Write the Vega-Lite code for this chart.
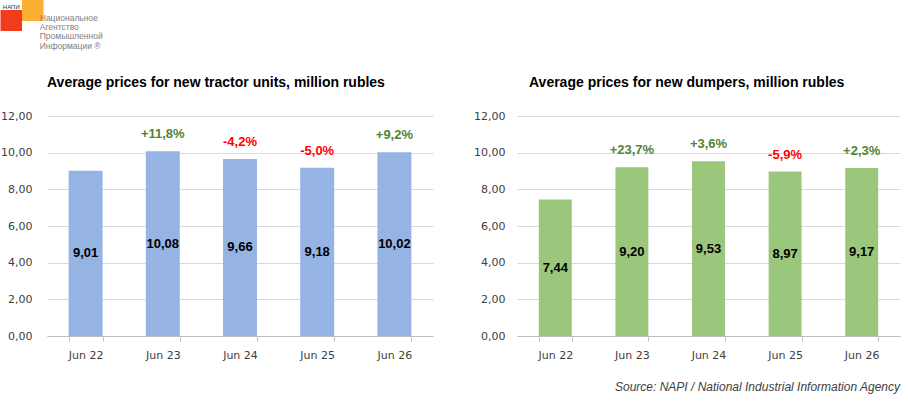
{
  "$schema": "https://vega.github.io/schema/vega-lite/v6.json",
  "description": "Average prices for new tractor units and dumpers, million rubles",
  "padding": {"left": 0, "top": 0, "right": 5, "bottom": 4},
  "background": "white",
  "config": {
    "locale": {
      "number": {"decimal": ",", "thousands": " ", "grouping": [3], "currency": ["", " ₽"], "minus": "-"}
    },
    "view": {"stroke": null},
    "font": "Liberation Sans",
    "axis": {
      "labelFont": "DejaVu Sans",
      "labelFontSize": 11,
      "labelColor": "#404040",
      "domainColor": "#bfbfbf",
      "tickColor": "#bfbfbf",
      "gridColor": "#d9d9d9",
      "title": null
    },
    "title": {"font": "Liberation Sans", "fontSize": 14, "fontWeight": "bold", "color": "#000000"}
  },
  "title": {
    "text": "Source: NAPI / National Industrial Information Agency",
    "orient": "bottom",
    "anchor": "end",
    "fontSize": 12,
    "fontStyle": "italic",
    "fontWeight": "normal",
    "color": "#404040",
    "offset": 22
  },
  "spacing": 25,
  "vconcat": [
    {
      "width": 43,
      "height": 31,
      "data": {"values": [{"box": "red"}, {"box": "orange"}]},
      "layer": [
        {
          "mark": {"type": "rect", "height": 21},
          "encoding": {
            "x": {"field": "box", "type": "nominal", "sort": ["red", "orange"], "scale": {"paddingInner": 0, "paddingOuter": 0, "range": [-46.5, -3.5]}, "axis": null},
            "y": {"field": "box", "type": "nominal", "sort": ["orange", "red"], "scale": {"paddingInner": 0, "paddingOuter": 0.55}, "axis": null},
            "color": {"field": "box", "type": "nominal", "scale": {"domain": ["red", "orange"], "range": ["#f23b1d", "#fbb034"]}, "legend": null}
          }
        },
        {
          "data": {"values": [{"name": "НАПИ"}]},
          "mark": {"type": "text", "fontSize": 6, "color": "#333333", "dy": -4, "baseline": "middle"},
          "encoding": {
            "x": {"datum": "red", "type": "nominal"},
            "y": {"datum": "orange", "type": "nominal"},
            "text": {"field": "name"}
          }
        },
        {
          "data": {"values": [{"name": "Национальное\nАгентство\nПромышленной\nИнформации ®"}]},
          "mark": {"type": "text", "fontSize": 8.5, "lineHeight": 9.2, "lineBreak": "\n", "color": "#7f7f7f", "align": "left", "baseline": "alphabetic", "dx": 7, "dy": 10.5},
          "encoding": {
            "x": {"datum": "orange", "type": "nominal"},
            "y": {"datum": "orange", "type": "nominal"},
            "text": {"field": "name"}
          }
        }
      ]
    },
    {
      "spacing": 40,
      "hconcat": [
        {
          "title": {"text": "Average prices for new tractor units, million rubles", "anchor": "start", "frame": "group", "offset": 20},
          "width": 386,
          "height": 220,
          "data": {
            "values": [
              {"month": "Jun 22", "price": 9.01, "change": null},
              {"month": "Jun 23", "price": 10.08, "change": 0.118},
              {"month": "Jun 24", "price": 9.66, "change": -0.042},
              {"month": "Jun 25", "price": 9.18, "change": -0.05},
              {"month": "Jun 26", "price": 10.02, "change": 0.092}
            ]
          },
          "encoding": {
            "x": {
              "field": "month", "type": "ordinal", "sort": null,
              "scale": {"paddingInner": 0.56, "paddingOuter": 0.28},
              "axis": {"labelAngle": 0, "tickBand": "extent", "tickSize": 5, "labelPadding": 8, "grid": false}
            }
          },
          "layer": [
            {
              "mark": {"type": "bar", "color": "#95b3e3"},
              "encoding": {
                "y": {
                  "field": "price", "type": "quantitative",
                  "scale": {"domain": [0, 12], "nice": false},
                  "axis": {"values": [0, 2, 4, 6, 8, 10, 12], "format": ".2f", "domain": false, "ticks": false, "labelPadding": 15, "grid": true, "labelOverlap": false}
                }
              }
            },
            {
              "transform": [{"calculate": "datum.price / 2", "as": "mid"}],
              "mark": {"type": "text", "fontSize": 13, "fontWeight": "bold", "color": "#000000", "baseline": "middle"},
              "encoding": {
                "y": {
                  "field": "mid", "type": "quantitative",
                  "scale": {"domain": [0, 12], "nice": false},
                  "axis": {"values": [0, 2, 4, 6, 8, 10, 12], "format": ".2f", "domain": false, "ticks": false, "labelPadding": 15, "grid": true, "labelOverlap": false}
                },
                "text": {"field": "price", "type": "quantitative", "format": ".2f"}
              }
            },
            {
              "transform": [{"filter": "datum.change != null"}],
              "mark": {"type": "text", "fontSize": 13, "fontWeight": "bold", "baseline": "middle", "dy": -17},
              "encoding": {
                "y": {
                  "field": "price", "type": "quantitative",
                  "scale": {"domain": [0, 12], "nice": false},
                  "axis": {"values": [0, 2, 4, 6, 8, 10, 12], "format": ".2f", "domain": false, "ticks": false, "labelPadding": 15, "grid": true, "labelOverlap": false}
                },
                "text": {"field": "change", "type": "quantitative", "format": "+.1%"},
                "color": {"condition": {"test": "datum.change < 0", "value": "#ff0000"}, "value": "#548235"}
              }
            }
          ]
        },
        {
          "title": {"text": "Average prices for new dumpers, million rubles", "anchor": "start", "frame": "group", "offset": 20, "dx": 12},
          "width": 383,
          "height": 220,
          "data": {
            "values": [
              {"month": "Jun 22", "price": 7.44, "change": null},
              {"month": "Jun 23", "price": 9.2, "change": 0.237},
              {"month": "Jun 24", "price": 9.53, "change": 0.036},
              {"month": "Jun 25", "price": 8.97, "change": -0.059},
              {"month": "Jun 26", "price": 9.17, "change": 0.023}
            ]
          },
          "encoding": {
            "x": {
              "field": "month", "type": "ordinal", "sort": null,
              "scale": {"paddingInner": 0.57, "paddingOuter": 0.285},
              "axis": {"labelAngle": 0, "tickBand": "extent", "tickSize": 5, "labelPadding": 8, "grid": false}
            }
          },
          "layer": [
            {
              "mark": {"type": "bar", "color": "#9bc77c"},
              "encoding": {
                "y": {
                  "field": "price", "type": "quantitative",
                  "scale": {"domain": [0, 12], "nice": false},
                  "axis": {"values": [0, 2, 4, 6, 8, 10, 12], "format": ".2f", "domain": false, "ticks": false, "labelPadding": 12, "grid": true, "labelOverlap": false}
                }
              }
            },
            {
              "transform": [{"calculate": "datum.price / 2", "as": "mid"}],
              "mark": {"type": "text", "fontSize": 13, "fontWeight": "bold", "color": "#000000", "baseline": "middle"},
              "encoding": {
                "y": {
                  "field": "mid", "type": "quantitative",
                  "scale": {"domain": [0, 12], "nice": false},
                  "axis": {"values": [0, 2, 4, 6, 8, 10, 12], "format": ".2f", "domain": false, "ticks": false, "labelPadding": 12, "grid": true, "labelOverlap": false}
                },
                "text": {"field": "price", "type": "quantitative", "format": ".2f"}
              }
            },
            {
              "transform": [{"filter": "datum.change != null"}],
              "mark": {"type": "text", "fontSize": 13, "fontWeight": "bold", "baseline": "middle", "dy": -17},
              "encoding": {
                "y": {
                  "field": "price", "type": "quantitative",
                  "scale": {"domain": [0, 12], "nice": false},
                  "axis": {"values": [0, 2, 4, 6, 8, 10, 12], "format": ".2f", "domain": false, "ticks": false, "labelPadding": 12, "grid": true, "labelOverlap": false}
                },
                "text": {"field": "change", "type": "quantitative", "format": "+.1%"},
                "color": {"condition": {"test": "datum.change < 0", "value": "#ff0000"}, "value": "#548235"}
              }
            }
          ]
        }
      ]
    }
  ]
}
